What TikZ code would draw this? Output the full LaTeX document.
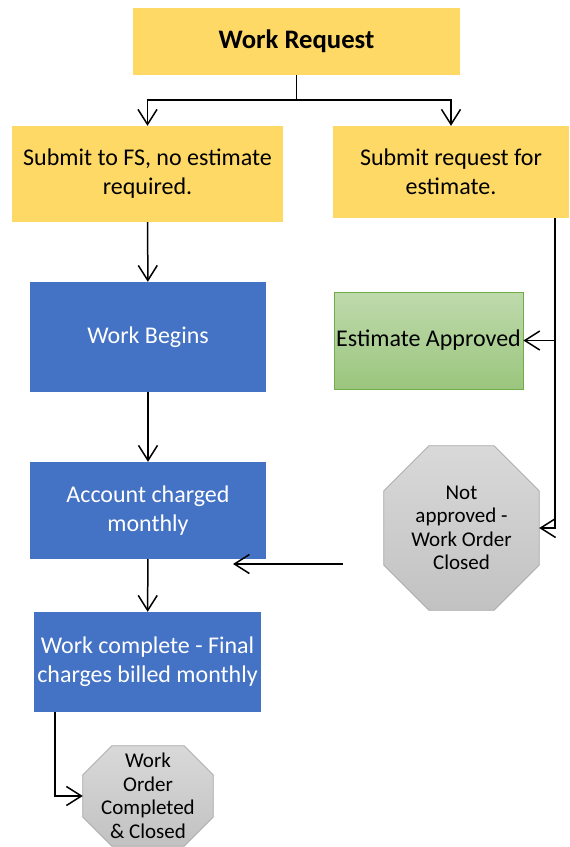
\documentclass[tikz,border=0pt]{standalone}
\usepackage{fontspec}
\setmainfont{Carlito}
\usepackage{tikz}
\usetikzlibrary{arrows.meta,backgrounds}
\definecolor{reqyellow}{HTML}{FFD966}
\definecolor{workblue}{HTML}{4472C4}
\definecolor{okgreen}{HTML}{70AD47}
\definecolor{stopgray}{HTML}{A5A5A5}

\begin{document}
\begin{tikzpicture}[x=1pt,y=-1pt,
  every node/.style={align=center,inner sep=0pt,font=\fontsize{24}{29}\selectfont},
  reqbox/.style={fill=reqyellow},
  workbox/.style={fill=workblue,text=white},
  okbox/.style={draw=okgreen,line width=0.8pt,top color=okgreen!45!white,bottom color=okgreen!70!white},
  stopbox/.style={font=\fontsize{21}{23.5}\selectfont},
  stopfill/.style={draw=stopgray,line width=0.8pt,top color=gray!30,bottom color=gray!48},
  flow/.style={line width=1.5pt,-{Straight Barb[length=15pt,width=19pt]}}]
\useasboundingbox (0,0) rectangle (570,847);

\node[reqbox,minimum width=327pt,minimum height=67pt,font=\fontsize{26.7}{30}\selectfont\bfseries] (req) at (296.5,41.5) {Work Request};
\node[reqbox,minimum width=271pt,minimum height=96pt] (fs) at (147.5,174) {Submit to FS, no estimate\\required.};
\node[reqbox,minimum width=236pt,minimum height=92pt] (est) at (451,172) {Submit request for\\estimate.};
\node[workbox,minimum width=236pt,minimum height=110pt] (begin) at (148,337) {Work Begins};
\node[workbox,minimum width=236pt,minimum height=97pt] (charge) at (148,510.5) {Account charged\\monthly};
\node[workbox,minimum width=227pt,minimum height=100pt] (final) at (147.5,662) {Work complete - Final\\charges billed monthly};
\node[okbox,minimum width=189pt,minimum height=97pt] (ok) at (428.5,340.5) {Estimate Approved};
\node[stopbox,minimum width=155pt,minimum height=164pt] (notok) at (461.5,528) {Not\\approved -\\Work Order\\Closed};
\node[stopbox,minimum width=130pt,minimum height=100pt] (done) at (148,796) {Work\\Order\\Completed\\\& Closed};

% octagons behind the two end nodes
\begin{scope}[on background layer]
\foreach \n/\c in {notok/45pt,done/29pt}
  \shadedraw[stopfill] ([xshift=\c]\n.north west) -- ([xshift=-\c]\n.north east)
    -- ([yshift=-\c]\n.north east) -- ([yshift=\c]\n.south east)
    -- ([xshift=-\c]\n.south east) -- ([xshift=\c]\n.south west)
    -- ([yshift=\c]\n.south west) -- ([yshift=-\c]\n.north west) -- cycle;
\end{scope}

\coordinate (split) at (296.5,100);
\coordinate (back1) at (343,564);
\coordinate (back2) at (233,564);

\draw[line width=1.5pt] (req.south) -- (split);
\draw[flow] (split) -| (fs.north);
\draw[flow] (split) -| (est.north);
\draw[flow] (fs) -- (begin);
\draw[flow] (begin) -- (charge);
\draw[flow] (charge) -- (final);
\draw[flow] ([xshift=21pt]final.south west) |- (done.west);
\draw[flow] ([xshift=-14pt]est.south east) |- (ok.east);
\draw[flow] ([xshift=-14pt]est.south east) |- (notok.east);
\draw[flow] (back1) -- (back2);
\end{tikzpicture}
\end{document}
